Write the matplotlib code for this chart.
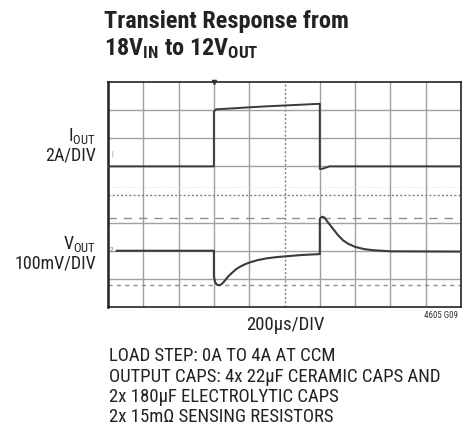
import matplotlib
matplotlib.use("Agg")
import matplotlib.pyplot as plt
import numpy as np

FONT = ['Roboto Condensed', 'DejaVu Sans']
plt.rcParams['font.family'] = FONT
plt.rcParams['mathtext.fontset'] = 'custom'
plt.rcParams['mathtext.rm'] = 'Roboto Condensed'
plt.rcParams['mathtext.bf'] = 'Roboto Condensed:bold'
plt.rcParams['mathtext.it'] = 'Roboto Condensed:italic'

# ---- data ----
# time in microseconds, 200 us/div, 10 divisions
TIME_PER_DIV = 200.0
# output current in A (2 A/div), zero level at division 5
I_PER_DIV = 2.0
I_ZERO_DIV = 5.0
i_time = [0, 600, 600, 612, 700, 800, 900, 1000, 1100, 1198, 1200, 1200, 1215, 1255, 2000]
i_amps = [0, 0, 3.9, 4.06, 4.12, 4.2, 4.27, 4.33, 4.39, 4.45, 4.45, -0.18, -0.17, 0.0, 0.0]

# output voltage deviation in mV (100 mV/div), zero level at division 2
V_PER_DIV = 100.0
V_ZERO_DIV = 2.0
v_time = [50, 600, 600, 606, 614, 624, 634, 645, 660, 680, 700, 725, 750, 780, 810, 850,
          900, 950, 1003, 1100, 1200,
          1200, 1206, 1216, 1226, 1245, 1275, 1300, 1330, 1360, 1399, 1450, 1501, 1600, 2000]
v_mv = [0, 0, -90, -110, -119, -122, -122, -118, -108, -92, -80, -66, -56, -47, -40, -33,
        -27, -23, -20, -15, -12,
        113, 118, 121, 118, 102, 78, 58, 38, 25, 14, 6, 2, -2, -3]

# cursor levels (mV) and helper level (div)
cursor_hi_mv = 118
cursor_lo_mv = -122
faint_level_div = 4.27

fig = plt.figure(figsize=(4.71, 4.26), dpi=100)
ax = fig.add_axes([108/471, 1-307/426, 353/471, 225/426])
ax.set_xlim(0, 10)
ax.set_ylim(0, 8)
ax.set_xticks([]); ax.set_yticks([])

grid_c = '#a0a0a0'
for k in range(1, 10):
    if k == 5:
        ax.axvline(k, color='#808080', lw=1.0, ls=(0, (1.5, 1.5)), zorder=1)
    else:
        ax.axvline(k, color=grid_c, lw=1.0, zorder=1)
for k in range(1, 8):
    if k == 4:
        ax.axhline(k, color='#808080', lw=1.0, ls=(0, (1.5, 1.5)), zorder=1)
    else:
        ax.axhline(k, color=grid_c, lw=1.0, zorder=1)
ax.axhline(faint_level_div, color='#dddddd', lw=0.8, ls=(0, (1, 2)), zorder=1)

# cursors
ax.axhline(V_ZERO_DIV + cursor_hi_mv / V_PER_DIV, color='#8f8f8f', lw=1.0, ls=(0, (6, 5)), zorder=1)
ax.axhline(V_ZERO_DIV + cursor_lo_mv / V_PER_DIV, color='#8f8f8f', lw=1.0, ls=(0, (3, 3)), zorder=1)

it = np.array(i_time) / TIME_PER_DIV
iv = I_ZERO_DIV + np.array(i_amps) / I_PER_DIV
vt = np.array(v_time) / TIME_PER_DIV
vv = V_ZERO_DIV + np.array(v_mv) / V_PER_DIV
ax.plot(it, iv, color='#3a3a3a', lw=1.4, zorder=3, solid_joinstyle='round')
ax.plot(vt, vv, color='#3a3a3a', lw=1.5, zorder=3, solid_joinstyle='round')

# channel markers
ax.text(0.12, I_ZERO_DIV + 0.45, '|', fontsize=5, color='#777777', ha='center', va='center')
ax.text(0.1, V_ZERO_DIV, '2', fontsize=5, color='#777777', ha='center', va='center')
ax.plot([0.16, 0.27], [V_ZERO_DIV, V_ZERO_DIV], color='#999999', lw=0.8)
# trigger marker
ax.plot([3.0], [8.0], marker='v', ms=3, color='#333333', clip_on=False, zorder=4)

for s in ax.spines.values():
    s.set_color('#222222')
    s.set_linewidth(1.2)
ax.spines['left'].set_linewidth(1.8)

# title
tfs = 17.5
fig.text(104/471, 1-28/426, 'Transient Response from', fontsize=tfs, fontweight='bold',
         ha='left', va='baseline', color='#222222')
fig.text(104/471, 1-55/426, r'18V$_{\mathbf{IN}}$ to 12V$_{\mathbf{OUT}}$', fontsize=tfs,
         fontweight='bold', ha='left', va='baseline', color='#222222')

# channel labels
lfs = 13
fig.text(96/471, 1-141/426, r'I$_{\mathrm{OUT}}$', fontsize=lfs, ha='right', va='baseline', color='#222222')
fig.text(96/471, 1-161/426, '2A/DIV', fontsize=lfs, ha='right', va='baseline', color='#222222')
fig.text(96/471, 1-249/426, r'V$_{\mathrm{OUT}}$', fontsize=lfs, ha='right', va='baseline', color='#222222')
fig.text(96/471, 1-268/426, '100mV/DIV', fontsize=lfs, ha='right', va='baseline', color='#222222')

fs = 13.5
fig.text(285/471, 1-325/426, '200µs/DIV', fontsize=fs, ha='center', va='center', color='#222222')
fig.text(458/471, 1-315/426, '4605 G09', fontsize=6.5, ha='right', va='center', color='#333333')

notes = ['LOAD STEP: 0A TO 4A AT CCM',
         'OUTPUT CAPS: 4x 22µF CERAMIC CAPS AND',
         '2x 180µF ELECTROLYTIC CAPS',
         '2x 15mΩ SENSING RESISTORS']
for n, line in enumerate(notes):
    fig.text(109/471, 1-(356 + 20.5*n)/426, line, fontsize=fs, ha='left', va='center', color='#222222')

fig.savefig('out.png', dpi=100)
